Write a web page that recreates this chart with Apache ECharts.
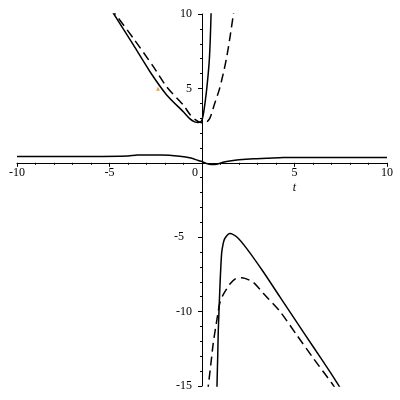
<!DOCTYPE html>
<html>
<head>
<meta charset="utf-8">
<script src="https://cdn.jsdelivr.net/npm/echarts@6/dist/echarts.min.js"></script>
<style>
  html, body { margin: 0; padding: 0; background: #fff; }
  #chart { width: 400px; height: 400px; }
</style>
</head>
<body>
<div id="chart"></div>
<script>
// curves, [t, y]
const upperSolid = [
  [-5.0, 10.45], [-4.79, 10.05], [-3.71, 7.92], [-2.81, 6.12], [-1.91, 4.56],
  [-1.01, 3.43], [-0.65, 2.95], [-0.4, 2.75], [-0.2, 2.7], [-0.02, 2.82],
  [0.07, 3.25], [0.16, 4.0], [0.25, 4.9], [0.33, 5.9], [0.4, 7.0],
  [0.45, 8.4], [0.49, 10], [0.52, 11]
];
const upperDashed = [
  [-4.95, 10.45], [-4.72, 10.05], [-3.71, 8.37], [-2.63, 6.46], [-1.91, 5.11],
  [-1.01, 3.88], [-0.65, 3.25], [-0.38, 2.92], [-0.11, 2.72], [0.16, 2.68],
  [0.42, 2.99], [0.69, 4.0], [0.93, 4.9], [1.15, 6.0], [1.34, 7.13],
  [1.52, 8.5], [1.69, 9.93], [1.75, 10.5]
];
const middleSolid = [
  [-10, 0.42], [-6, 0.42], [-4, 0.45], [-3.5, 0.52], [-2.2, 0.52],
  [-1.2, 0.44], [-0.6, 0.32], [-0.2, 0.15], [0, 0.08], [0.25, -0.05],
  [0.5, -0.12], [0.8, -0.1], [1.2, 0.05], [1.5, 0.12], [2, 0.2],
  [2.8, 0.27], [3.5, 0.3], [4.4, 0.35], [6, 0.36], [10, 0.36]
];
const lowerSolid = [
  [0.80, -16], [0.81, -15], [0.85, -13], [0.88, -11.3], [0.97, -8.3],
  [1.06, -6.1], [1.15, -5.4], [1.24, -5.07], [1.51, -4.75], [1.9, -5.0],
  [2.41, -5.75], [3.31, -7.32], [4.22, -9.03], [5.12, -10.71], [6.02, -12.38],
  [6.92, -14.05], [7.37, -14.93], [7.5, -15.2]
];
const lowerDashed = [
  [0.3, -15.5], [0.34, -15], [0.5, -13.3], [0.61, -12.1], [0.85, -10.2],
  [0.96, -9.44], [1.14, -8.88], [1.51, -8.15], [1.8, -7.8], [2.14, -7.72],
  [2.77, -8.03], [3.31, -8.77], [4.22, -10.0], [5.12, -11.57], [6.02, -13.14],
  [7.01, -14.8], [7.2, -15.15]
];
const strayMark = [[-2.38, 4.98]];
const xTicks = { min: -10, max: 10, step: 5 };
const yTicks = { min: -15, max: 10, step: 5 };

const chart = echarts.init(document.getElementById("chart"));
const font = "'Liberation Serif', 'DejaVu Serif', serif";

// grid box, the axes are pushed in so they cross at (0, 0)
const gridBox = { left: 17, right: 13, top: 14, bottom: 14 };
const gridW = 400 - gridBox.left - gridBox.right;
const gridH = 400 - gridBox.top - gridBox.bottom;
const xAxisShift = -gridH * (0 - yTicks.min) / (yTicks.max - yTicks.min);
const yAxisShift = -gridW * (0 - xTicks.min) / (xTicks.max - xTicks.min);

function curve(data, dashed) {
  return {
    type: "line",
    data: data,
    showSymbol: false,
    smooth: 0.25,
    animation: false,
    lineStyle: {
      color: "#000",
      width: 1.5,
      type: dashed ? [9, 5] : "solid",
    },
  };
}

chart.setOption({
  animation: false,
  grid: {
    left: gridBox.left,
    right: gridBox.right,
    top: gridBox.top,
    bottom: gridBox.bottom,
    outerBoundsMode: "none",
  },
  xAxis: {
    type: "value",
    position: "bottom",
    offset: xAxisShift,
    min: xTicks.min,
    max: xTicks.max,
    interval: xTicks.step,
    axisLine: { onZero: false, lineStyle: { color: "#000", width: 1 } },
    axisTick: { show: true, length: 4, lineStyle: { color: "#000" } },
    minorTick: { show: true, splitNumber: 5, length: 2, lineStyle: { color: "#000" } },
    splitLine: { show: false },
    axisLabel: {
      margin: 4,
      color: "#000",
      fontFamily: font,
      fontSize: 12,
      formatter: function (v) {
        if (v === 0) return "{z|0}";
        if (v === 5) return "5\n{t|t}";
        return String(v);
      },
      rich: {
        z: { padding: [0, 14, 0, 0], fontFamily: font, fontSize: 12, color: "#000" },
        t: { fontStyle: "italic", fontFamily: font, fontSize: 12, color: "#000", lineHeight: 19 },
      },
    },
  },
  yAxis: {
    type: "value",
    position: "left",
    offset: yAxisShift,
    min: yTicks.min,
    max: yTicks.max,
    interval: yTicks.step,
    axisLine: { show: true, onZero: false, lineStyle: { color: "#000", width: 1 } },
    axisTick: { show: true, length: 4, lineStyle: { color: "#000" } },
    minorTick: { show: true, splitNumber: 5, length: 2, lineStyle: { color: "#000" } },
    splitLine: { show: false },
    axisLabel: {
      margin: 10,
      color: "#000",
      fontFamily: font,
      fontSize: 12,
      formatter: function (v) {
        if (v === 0) return "";
        if (v === -5) return "{p|-5}";
        return String(v);
      },
      rich: {
        p: { padding: [0, 8, 0, 0], fontFamily: font, fontSize: 12, color: "#000" },
      },
    },
  },
  series: [
    curve(upperSolid, false),
    curve(upperDashed, true),
    curve(middleSolid, false),
    curve(lowerSolid, false),
    curve(lowerDashed, true),
    {
      type: "scatter",
      data: strayMark,
      symbol: "triangle",
      symbolSize: 4,
      itemStyle: { color: "#e08a2a" },
      animation: false,
    },
  ],
});

window.addEventListener("resize", () => {
  chart.resize();
});
</script>
</body>
</html>
